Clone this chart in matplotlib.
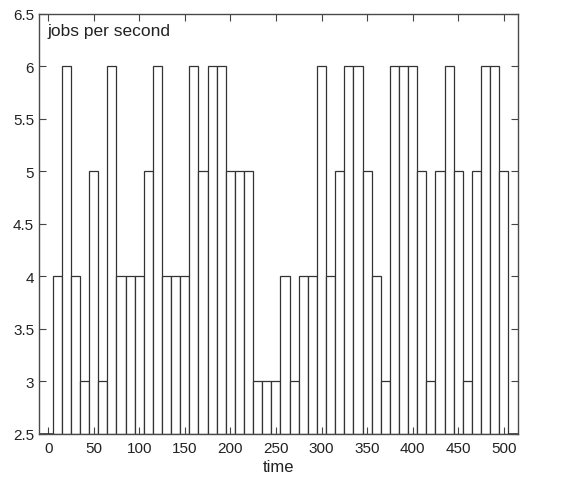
import numpy as np
import matplotlib
matplotlib.use("Agg")
import matplotlib.pyplot as plt
from matplotlib.ticker import FormatStrFormatter

plt.rcParams['font.family'] = ['Liberation Sans', 'DejaVu Sans']

# jobs per second in each 10-unit time slot (slot centres 10..500)
time = np.arange(10, 501, 10)
jobs = [4, 6, 4, 3, 5, 3, 6, 4, 4, 4,
        5, 6, 4, 4, 4, 6, 5, 6, 6, 5,
        5, 5, 3, 3, 3, 4, 3, 4, 4, 6,
        4, 5, 6, 6, 5, 4, 3, 6, 6, 6,
        5, 3, 5, 6, 5, 3, 5, 6, 6, 5]
xticks = [0, 50, 100, 150, 200, 250, 300, 350, 400, 450, 500]
yticks = [2.5, 3, 3.5, 4, 4.5, 5, 5.5, 6, 6.5]

width = 10
base = 2.5
xlim = (-10, 516)

fig = plt.figure(figsize=(5.74, 4.81), dpi=100)
ax = fig.add_axes([0.068, 0.096, 0.835, 0.873])

ax.bar(time, np.array(jobs) - base, width=width, bottom=base,
       facecolor="white", edgecolor="#333333", linewidth=0.9)

# dark baseline outside the bars (as in the original)
ax.hlines(base, xlim[0], time[0] - width / 2, color="#222222", lw=1.8)
ax.hlines(base, time[-1] + width / 2, xlim[1], color="#222222", lw=1.8)

ax.set_xlim(*xlim)
ax.set_ylim(yticks[0], yticks[-1])
ax.set_xticks(xticks)
ax.set_yticks(yticks)
ax.yaxis.set_major_formatter(FormatStrFormatter('%g'))
ax.tick_params(direction="in", top=True, right=True, length=5,
               width=0.8, color="#444444", labelsize=11, labelcolor="#222222")
ax.tick_params(axis="x", pad=5)
for s in ax.spines.values():
    s.set_color("#4a4a4a")
    s.set_linewidth(1.0)

ax.text(0.018, 0.978, "jobs per second", transform=ax.transAxes,
        ha="left", va="top", fontsize=12.5, color="#222222")
ax.set_xlabel("time", fontsize=12, color="#222222", labelpad=3)

fig.savefig("out.png", dpi=100)
